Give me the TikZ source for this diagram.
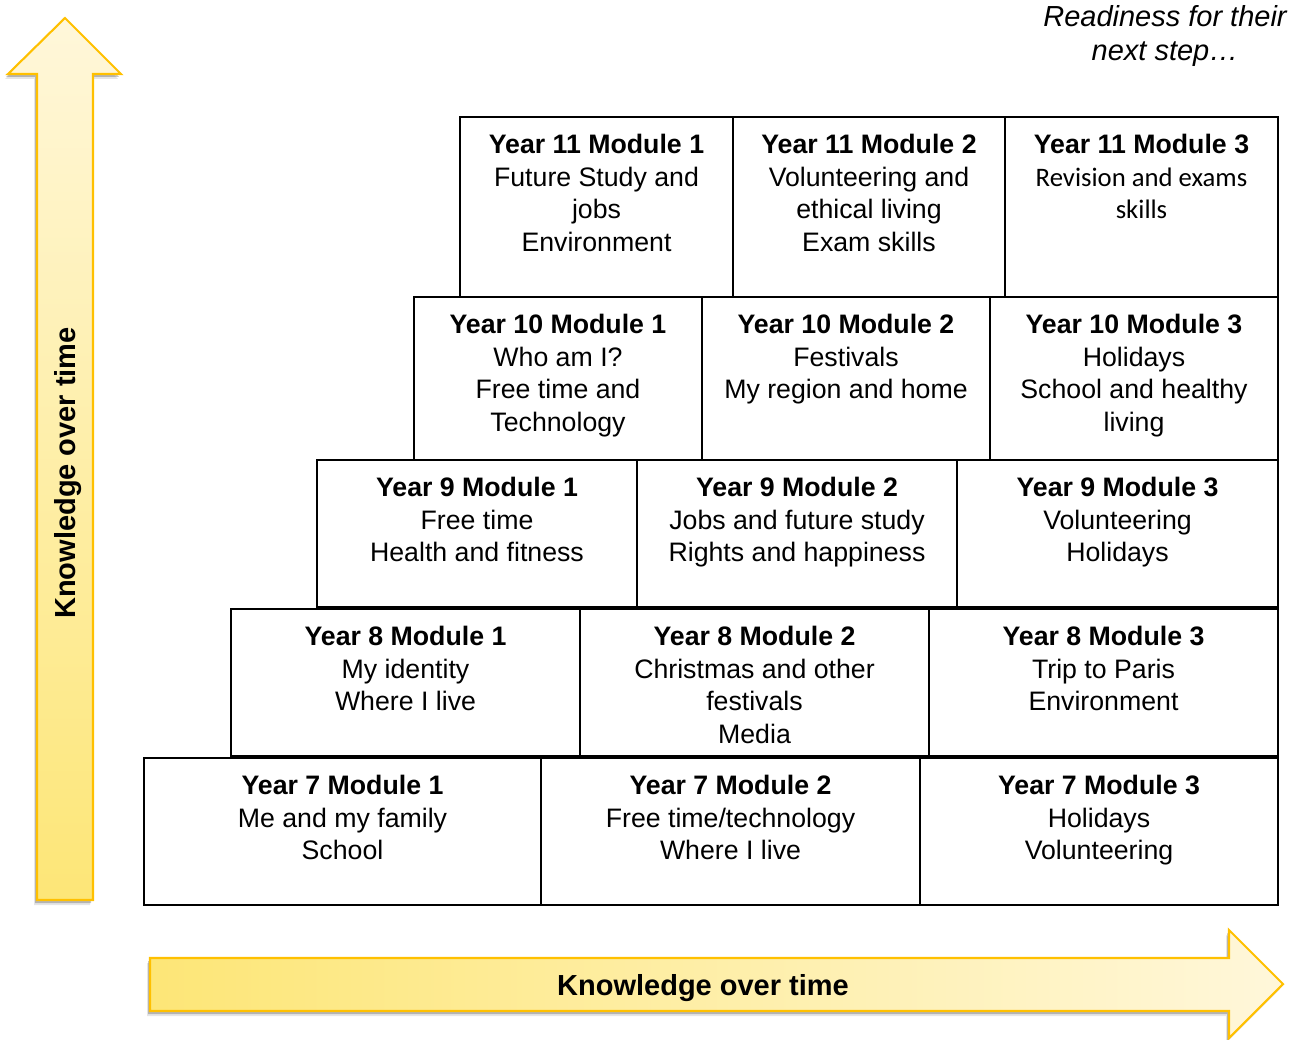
\documentclass[tikz,border=0pt]{standalone}
\usepackage{fontspec}
\setmainfont{Liberation Sans}
\newfontfamily\calfont{Carlito}
\usetikzlibrary{positioning, fit}
\definecolor{arrowline}{HTML}{FFC000}
\definecolor{arrowdark}{HTML}{FDE677}
\definecolor{arrowpale}{HTML}{FFF7DA}

\tikzset{
    cell/.style={draw, line width=1.5pt, inner sep=0pt},
    celltext/.style={align=center, inner sep=0pt, anchor=north, font=\fontsize{15.2}{18.6}\selectfont},
    bigarrow/.style={draw=arrowline, line width=1.2pt, line join=miter},
    arrowtext/.style={font=\fontsize{16.5}{19.8}\selectfont\bfseries, inner sep=0pt}
}

\begin{document}
\begin{tikzpicture}[x=0.02cm, y=-0.02cm]
    % Parametri
    \pgfmathsetmacro{\gap}{0.36}
    \useasboundingbox (0,0) rectangle (1306,1040);
    % Ombre
    \foreach \dx/\dy/\op in {-3/5/0.10, -2/3/0.22}{
        \fill[black, opacity=\op, shift={(\dx,\dy)}]
            (37,900) -- (37,74) -- (8,74) -- (65,18) -- (121,74) -- (93,74) -- (93,900) -- cycle;
        \fill[black, opacity=\op, shift={(\dx,\dy)}]
            (150,958) -- (1229,958) -- (1229,930) -- (1283,984) -- (1229,1038) -- (1229,1011) -- (150,1011) -- cycle;
    }
    % Frecce
    \draw[bigarrow, top color=arrowpale, bottom color=arrowdark]
        (37,900) -- (37,74) -- (8,74) -- (65,18) -- (121,74) -- (93,74) -- (93,900) -- cycle;
    \draw[bigarrow, left color=arrowdark, right color=arrowpale]
        (150,958) -- (1229,958) -- (1229,930) -- (1283,984) -- (1229,1038) -- (1229,1011) -- (150,1011) -- cycle;
    \node[arrowtext, rotate=90] (vlabel) at (68,473) {Knowledge over time};
    \node[arrowtext] (hlabel) at (703,988) {Knowledge over time};
    \node[align=center, inner sep=0pt, font=\fontsize{16.5}{19.8}\selectfont\itshape] (ready) at (1165,36)
        {Readiness for their\\next step\ldots};
    % Moduli
    \foreach \nm/\xa/\ya/\xb/\yb/\head/\body in {
        y11a/460/117/733/297/{Year 11 Module 1}/{Future Study and\\jobs\\Environment},
        y11b/733/117/1005/297/{Year 11 Module 2}/{Volunteering and\\ethical living\\Exam skills},
        y11c/1005/117/1278/297/{Year 11 Module 3}/{{\calfont Revision and exams}\\{\calfont skills}},
        y10a/414/297/702/460/{Year 10 Module 1}/{Who am I?\\Free time and\\Technology},
        y10b/702/297/990/460/{Year 10 Module 2}/{Festivals\\My region and home},
        y10c/990/297/1278/460/{Year 10 Module 3}/{Holidays\\School and healthy\\living},
        y9a/317/460/637/607/{Year 9 Module 1}/{Free time\\Health and fitness},
        y9b/637/460/957/607/{Year 9 Module 2}/{Jobs and future study\\Rights and happiness},
        y9c/957/460/1278/607/{Year 9 Module 3}/{Volunteering\\Holidays},
        y8a/231/609/580/756/{Year 8 Module 1}/{My identity\\Where I live},
        y8b/580/609/929/756/{Year 8 Module 2}/{Christmas and other\\festivals\\Media},
        y8c/929/609/1278/756/{Year 8 Module 3}/{Trip to Paris\\Environment},
        y7a/144/758/541/905/{Year 7 Module 1}/{Me and my family\\School},
        y7b/541/758/920/905/{Year 7 Module 2}/{Free time/technology\\Where I live},
        y7c/920/758/1278/905/{Year 7 Module 3}/{Holidays\\Volunteering}}{
        \node[cell, fit={(\xa,\ya) (\xb,\yb)}] (\nm) {};
        \node[celltext, below=\gap cm of \nm.north] (\nm-txt) {\textbf{\head}\\\body};
    }
\end{tikzpicture}
\end{document}
